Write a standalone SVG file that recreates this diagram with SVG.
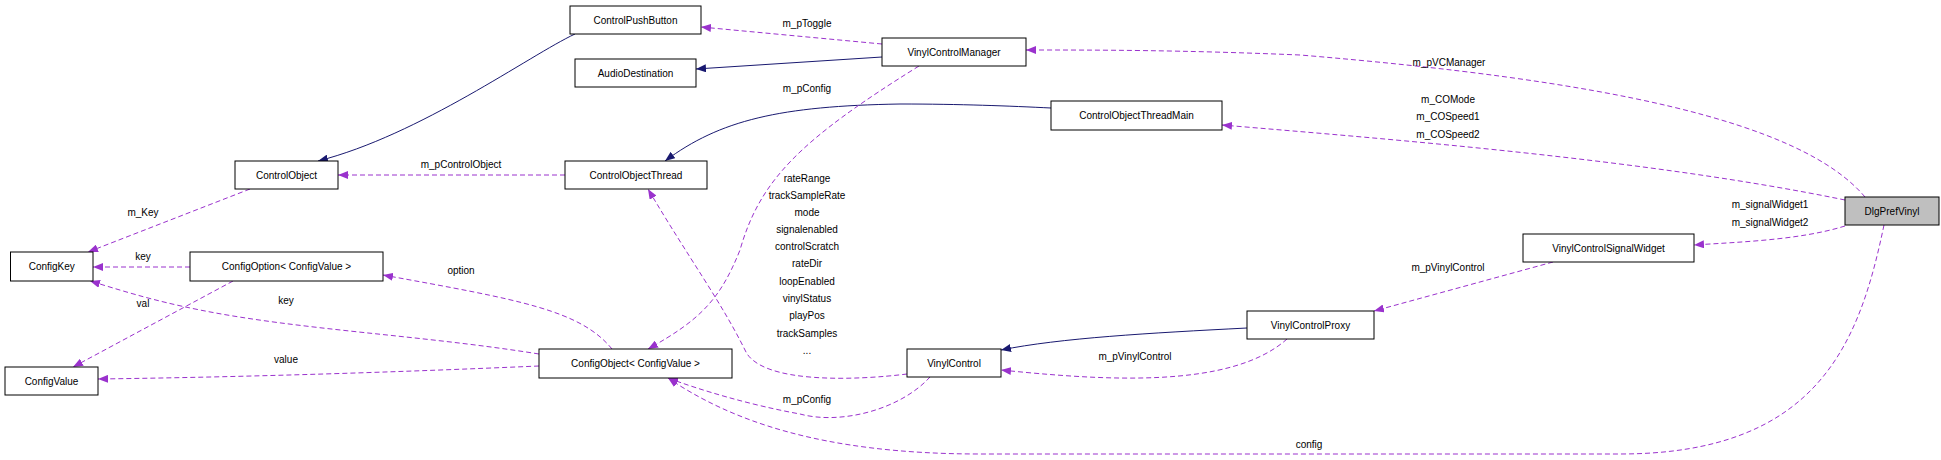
<svg xmlns="http://www.w3.org/2000/svg" width="1941" height="460" viewBox="0 0 1941 460">
<style>
text{font-family:"Liberation Sans",Arial,sans-serif;font-size:10px;fill:#000}
.n rect{fill:#fff;stroke:#000;stroke-width:1}
.n text{text-anchor:middle}
.g{fill:none;stroke:#191970;stroke-width:1}
.d{fill:none;stroke:#9a32cd;stroke-width:1;stroke-dasharray:5,3}
.l{text-anchor:middle}
</style>
<defs>
<marker id="ag" viewBox="0 0 10 8" refX="10" refY="4" markerWidth="10" markerHeight="8" markerUnits="userSpaceOnUse" orient="auto"><path d="M0,0L10,4L0,8z" fill="#191970"/></marker>
<marker id="ad" viewBox="0 0 10 8" refX="10" refY="4" markerWidth="10" markerHeight="8" markerUnits="userSpaceOnUse" orient="auto"><path d="M0,0L10,4L0,8z" fill="#9a32cd"/></marker>
</defs>
<g id="connectors">
<path class="g" d="M575,34C530,55 420,135 318,161" marker-end="url(#ag)"/>
<path class="g" d="M882,57L696,69" marker-end="url(#ag)"/>
<path class="g" d="M1051,108C1010,106 960,104 900,104C780,106 720,120 665,161" marker-end="url(#ag)"/>
<path class="g" d="M1247,328C1150,333 1060,338 1001,350" marker-end="url(#ag)"/>
<path class="d" d="M882,44L701,27" marker-end="url(#ad)"/>
<path class="d" d="M1865,197C1800,120 1600,80 1300,55C1180,50 1100,50 1026,50" marker-end="url(#ad)"/>
<path class="d" d="M1845,200C1650,160 1400,140 1222,125" marker-end="url(#ad)"/>
<path class="d" d="M1845,226C1800,240 1740,242 1694,245" marker-end="url(#ad)"/>
<path class="d" d="M1553,262L1374,311" marker-end="url(#ad)"/>
<path class="d" d="M1287,339C1230,390 1100,380 1001,370" marker-end="url(#ad)"/>
<path class="d" d="M1884,225C1860,340 1820,454 1620,454L980,454C820,454 730,420 668,378" marker-end="url(#ad)"/>
<path class="d" d="M930,377C900,410 840,425 800,414C750,405 700,390 668,378" marker-end="url(#ad)"/>
<path class="d" d="M907,374C860,380 760,385 745,350C720,300 690,260 648,189" marker-end="url(#ad)"/>
<path class="d" d="M919,66C800,140 760,180 740,250C720,300 700,320 648,349" marker-end="url(#ad)"/>
<path class="d" d="M565,175L338,175" marker-end="url(#ad)"/>
<path class="d" d="M250,189L88,252" marker-end="url(#ad)"/>
<path class="d" d="M190,267L93,267" marker-end="url(#ad)"/>
<path class="d" d="M233,281L73,367" marker-end="url(#ad)"/>
<path class="d" d="M539,354C420,335 300,330 200,310C150,300 120,290 90,281" marker-end="url(#ad)"/>
<path class="d" d="M612,349C580,310 520,300 383,275" marker-end="url(#ad)"/>
<path class="d" d="M539,366C400,372 250,377 98,379" marker-end="url(#ad)"/>
</g>
<g id="labels">
<text class="l" x="807" y="27">m_pToggle</text>
<text class="l" x="807" y="92">m_pConfig</text>
<text class="l" x="1449" y="66">m_pVCManager</text>
<text class="l" x="1448" y="103">m_COMode</text>
<text class="l" x="1448" y="120">m_COSpeed1</text>
<text class="l" x="1448" y="138">m_COSpeed2</text>
<text class="l" x="1770" y="208">m_signalWidget1</text>
<text class="l" x="1770" y="226">m_signalWidget2</text>
<text class="l" x="1448" y="271">m_pVinylControl</text>
<text class="l" x="1135" y="360">m_pVinylControl</text>
<text class="l" x="1309" y="448">config</text>
<text class="l" x="807" y="403">m_pConfig</text>
<text class="l" x="807" y="182">rateRange</text>
<text class="l" x="807" y="199">trackSampleRate</text>
<text class="l" x="807" y="216">mode</text>
<text class="l" x="807" y="233">signalenabled</text>
<text class="l" x="807" y="250">controlScratch</text>
<text class="l" x="807" y="267">rateDir</text>
<text class="l" x="807" y="285">loopEnabled</text>
<text class="l" x="807" y="302">vinylStatus</text>
<text class="l" x="807" y="319">playPos</text>
<text class="l" x="807" y="337">trackSamples</text>
<text class="l" x="807" y="354">...</text>
<text class="l" x="461" y="168">m_pControlObject</text>
<text class="l" x="143" y="216">m_Key</text>
<text class="l" x="143" y="260">key</text>
<text class="l" x="143" y="307">val</text>
<text class="l" x="286" y="304">key</text>
<text class="l" x="461" y="274">option</text>
<text class="l" x="286" y="363">value</text>
</g>
<g id="ControlPushButton" class="n"><rect x="570" y="6" width="131" height="28"/><text x="635.5" y="23.5">ControlPushButton</text></g>
<g id="AudioDestination" class="n"><rect x="575" y="59" width="121" height="28"/><text x="635.5" y="76.5">AudioDestination</text></g>
<g id="VinylControlManager" class="n"><rect x="882" y="38" width="144" height="28"/><text x="954" y="55.5">VinylControlManager</text></g>
<g id="ControlObject" class="n"><rect x="235" y="161" width="103" height="28"/><text x="286.5" y="178.5">ControlObject</text></g>
<g id="ControlObjectThread" class="n"><rect x="565" y="161" width="142" height="28"/><text x="636" y="178.5">ControlObjectThread</text></g>
<g id="ControlObjectThreadMain" class="n"><rect x="1051" y="101" width="171" height="29"/><text x="1136.5" y="119">ControlObjectThreadMain</text></g>
<g id="ConfigKey" class="n"><rect x="10.5" y="252" width="82.5" height="29"/><text x="51.75" y="270">ConfigKey</text></g>
<g id="ConfigOption" class="n"><rect x="190" y="252" width="193" height="29"/><text x="286.5" y="270">ConfigOption&lt; ConfigValue &gt;</text></g>
<g id="ConfigValue" class="n"><rect x="5" y="367" width="93" height="28"/><text x="51.5" y="384.5">ConfigValue</text></g>
<g id="ConfigObject" class="n"><rect x="539" y="349" width="193" height="29"/><text x="635.5" y="367">ConfigObject&lt; ConfigValue &gt;</text></g>
<g id="VinylControl" class="n"><rect x="907" y="349" width="94" height="28"/><text x="954" y="366.5">VinylControl</text></g>
<g id="VinylControlProxy" class="n"><rect x="1247" y="311" width="127" height="28"/><text x="1310.5" y="328.5">VinylControlProxy</text></g>
<g id="VinylControlSignalWidget" class="n"><rect x="1523" y="234" width="171" height="28"/><text x="1608.5" y="251.5">VinylControlSignalWidget</text></g>
<g id="DlgPrefVinyl" class="n"><rect x="1845" y="197" width="94" height="28" style="fill:#bfbfbf"/><text x="1892" y="214.5">DlgPrefVinyl</text></g>
</svg>
